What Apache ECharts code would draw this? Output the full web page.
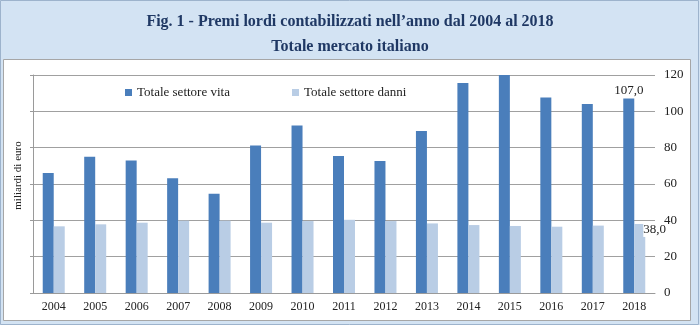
<!DOCTYPE html>
<html>
<head>
<meta charset="utf-8">
<script src="https://cdn.jsdelivr.net/npm/echarts@6/dist/echarts.min.js"></script>
<style>
html,body{margin:0;padding:0;background:#d3e3f3;}
#chart{width:700px;height:325px;}
</style>
</head>
<body>
<div id="chart"></div>
<script>
const titleText = 'Fig. 1 - Premi lordi contabilizzati nell\u2019anno dal 2004 al 2018';
const subtitleText = 'Totale mercato italiano';
const yAxisName = 'miliardi di euro';
const categories = ['2004','2005','2006','2007','2008','2009','2010','2011','2012','2013','2014','2015','2016','2017','2018'];
const seriesNames = ['Totale settore vita', 'Totale settore danni'];
const vita = [66.0, 75.0, 73.0, 63.1, 54.6, 81.2, 92.2, 75.4, 72.6, 89.2, 115.6, 120.4, 107.6, 104.0, 107.0];
const danni = [36.7, 37.8, 38.7, 39.8, 39.8, 38.7, 39.6, 40.3, 39.6, 38.3, 37.4, 36.9, 36.5, 37.1, 38.0];
const yTicks = [0, 20, 40, 60, 80, 100, 120];

const FONT = '"Liberation Serif", "DejaVu Serif", serif';
const fmt = v => v.toFixed(1).replace('.', ',');
const last = categories.length - 1;

const vitaData = vita.map((v, i) => i === last ? {
  value: v,
  label: { show: true, position: 'top', distance: 2, formatter: p => fmt(p.value),
           fontFamily: FONT, fontSize: 13, color: '#222' }
} : v);
const danniData = danni.map((v, i) => i === last ? {
  value: v,
  label: { show: true, position: [9, 6], align: 'left', verticalAlign: 'middle',
           formatter: p => fmt(p.value), fontFamily: FONT, fontSize: 13, color: '#222',
           backgroundColor: '#fff', padding: [1, 0, 0, 0] }
} : v);

const chart = echarts.init(document.getElementById('chart'), null, { renderer: 'canvas' });
chart.setOption({
  animation: false,
  backgroundColor: '#d3e3f3',
  graphic: [
    { type: 'rect', z: -10, silent: true,
      shape: { x: 0.5, y: 0.5, width: 698, height: 324 },
      style: { fill: '#d3e3f3', stroke: '#9db3cc', lineWidth: 1 } },
    { type: 'rect', z: -9, silent: true,
      shape: { x: 3.5, y: 59.5, width: 687, height: 261 },
      style: { fill: '#ffffff', stroke: '#a6a6a6', lineWidth: 1 } }
  ],
  title: [
    { text: titleText, left: 'center', top: 9,
      textStyle: { fontFamily: FONT, fontSize: 16, fontWeight: 'bold', color: '#1f3864' } },
    { text: subtitleText, left: 'center', top: 34,
      textStyle: { fontFamily: FONT, fontSize: 16, fontWeight: 'bold', color: '#1f3864' } }
  ],
  legend: [
    { data: [seriesNames[0]], left: 120, top: 81, itemWidth: 7, itemHeight: 7, icon: 'rect',
      textStyle: { fontFamily: FONT, fontSize: 13, color: '#222' } },
    { data: [seriesNames[1]], left: 287, top: 81, itemWidth: 7, itemHeight: 7, icon: 'rect',
      textStyle: { fontFamily: FONT, fontSize: 13, color: '#222' } }
  ],
  grid: { left: 33, right: 45, top: 75, bottom: 32 },
  xAxis: {
    type: 'category',
    data: categories,
    axisLine: { show: true, lineStyle: { color: '#9a9a9a', width: 1 } },
    axisTick: { show: false },
    axisLabel: { fontFamily: FONT, fontSize: 12, color: '#222', margin: 8 }
  },
  yAxis: [
    { type: 'value', position: 'right', min: yTicks[0], max: yTicks[yTicks.length - 1], interval: 20,
      axisLine: { show: false }, axisTick: { show: false },
      axisLabel: { fontFamily: FONT, fontSize: 13, color: '#222', margin: 9 },
      splitLine: { show: true, lineStyle: { color: '#a0a0a0', width: 1 } } },
    { type: 'value', position: 'left', min: yTicks[0], max: yTicks[yTicks.length - 1], interval: 20,
      axisLine: { show: true, lineStyle: { color: '#9a9a9a', width: 1 } },
      axisTick: { show: true, length: 3, lineStyle: { color: '#9a9a9a' } },
      axisLabel: { show: false },
      splitLine: { show: false },
      name: yAxisName, nameLocation: 'middle', nameRotate: 90, nameGap: 9,
      nameTextStyle: { fontFamily: FONT, fontSize: 11, color: '#222', padding: [0, 0, 0, 17] } }
  ],
  series: [
    { name: seriesNames[0], type: 'bar', yAxisIndex: 0, data: vitaData,
      barWidth: 11, barGap: '0%', itemStyle: { color: '#4a7ebb' } },
    { name: seriesNames[1], type: 'bar', yAxisIndex: 0, data: danniData,
      barWidth: 11, barGap: '0%', itemStyle: { color: '#b9cde5' } }
  ]
});
</script>
</body>
</html>
